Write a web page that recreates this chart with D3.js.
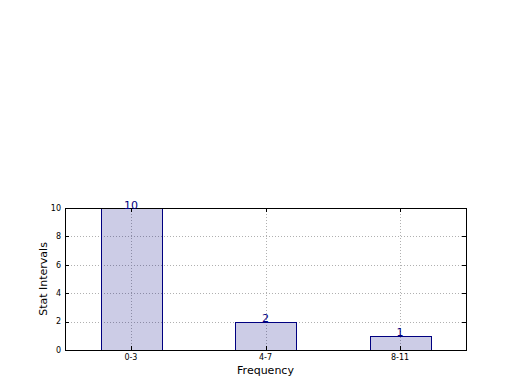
<!DOCTYPE html>
<html>
<head>
<meta charset="utf-8">
<script src="https://cdn.jsdelivr.net/npm/d3@7"></script>
<style>
body{margin:0;background:#fff;}
svg{font-family:"DejaVu Sans",sans-serif;}
</style>
</head>
<body>
<svg id="chart" width="520" height="390"></svg>
<script>
var categories = ["0-3", "4-7", "8-11"];
var counts = [10, 2, 1];
var yTicks = [0, 2, 4, 6, 8, 10];

var svg = d3.select('#chart');
var pLeft = 65, pRight = 466, pTop = 208, pBottom = 350;

// bar positions 0,1,2 with width 0.45, like plt.bar
var x = d3.scaleLinear().domain([-0.49, 2.49]).range([pLeft, pRight]);
var y = d3.scaleLinear().domain([0, 10]).range([pBottom, pTop]);
var bw = 0.45;

// grid underneath, shows through the translucent bars
var grid = svg.append('g').attr('stroke', '#b0b0b0').attr('stroke-width', 1).attr('stroke-dasharray', '1,2');
yTicks.forEach(function(t){
	grid.append('line').attr('x1', pLeft).attr('x2', pRight).attr('y1', Math.round(y(t))+0.5).attr('y2', Math.round(y(t))+0.5);
});
categories.forEach(function(c, i){
	grid.append('line').attr('x1', Math.round(x(i))+0.5).attr('x2', Math.round(x(i))+0.5).attr('y1', pTop).attr('y2', pBottom);
});

// bars
svg.selectAll('rect.bar')
	.data(counts)
	.enter().append('rect')
	.attr('class', 'bar')
	.attr('x', function(d, i){ return Math.round(x(i - bw/2))+0.5; })
	.attr('width', function(d, i){ return Math.round(x(i + bw/2) - x(i - bw/2)); })
	.attr('y', function(d){ return Math.round(y(d))+0.5; })
	.attr('height', function(d){ return Math.round(y(0) - y(d)); })
	.attr('fill', '#000080')
	.attr('fill-opacity', 0.2)
	.attr('stroke', '#000080')
	.attr('stroke-width', 1);

// frame
svg.append('rect')
	.attr('x', pLeft+0.5).attr('y', pTop+0.5)
	.attr('width', pRight-pLeft).attr('height', pBottom-pTop)
	.attr('fill', 'none').attr('stroke', '#000').attr('stroke-width', 1);

// ticks pointing inward
var ticks = svg.append('g').attr('stroke', '#000').attr('stroke-width', 1);
yTicks.forEach(function(t){
	var yy = Math.round(y(t))+0.5;
	ticks.append('line').attr('x1', pLeft).attr('x2', pLeft+4).attr('y1', yy).attr('y2', yy);
	ticks.append('line').attr('x1', pRight-4).attr('x2', pRight).attr('y1', yy).attr('y2', yy);
});
categories.forEach(function(c, i){
	var xx = Math.round(x(i))+0.5;
	ticks.append('line').attr('x1', xx).attr('x2', xx).attr('y1', pBottom-4).attr('y2', pBottom);
	ticks.append('line').attr('x1', xx).attr('x2', xx).attr('y1', pTop).attr('y2', pTop+4);
});

// tick labels
svg.selectAll('text.ytick')
	.data(yTicks)
	.enter().append('text')
	.attr('class', 'ytick')
	.attr('x', pLeft-4)
	.attr('y', function(d){ return y(d); })
	.attr('dy', '0.35em')
	.attr('text-anchor', 'end')
	.attr('font-size', 8)
	.text(function(d){ return d; });

svg.selectAll('text.xtick')
	.data(categories)
	.enter().append('text')
	.attr('class', 'xtick')
	.attr('x', function(d, i){ return x(i); })
	.attr('y', pBottom+10)
	.attr('text-anchor', 'middle')
	.attr('font-size', 8)
	.text(function(d){ return d; });

// value labels
svg.selectAll('text.val')
	.data(counts)
	.enter().append('text')
	.attr('class', 'val')
	.attr('x', function(d, i){ return x(i); })
	.attr('y', function(d){ return y(d) + 0.5; })
	.attr('text-anchor', 'middle')
	.attr('font-size', 11)
	.attr('fill', '#000080')
	.text(function(d){ return d; });

// axis labels
svg.append('text')
	.attr('x', (pLeft+pRight)/2)
	.attr('y', 374)
	.attr('text-anchor', 'middle')
	.attr('font-size', 11)
	.text('Frequency');

svg.append('text')
	.attr('transform', 'translate(47,' + (pTop+pBottom)/2 + ') rotate(-90)')
	.attr('text-anchor', 'middle')
	.attr('font-size', 11)
	.text('Stat Intervals');
</script>
</body>
</html>
